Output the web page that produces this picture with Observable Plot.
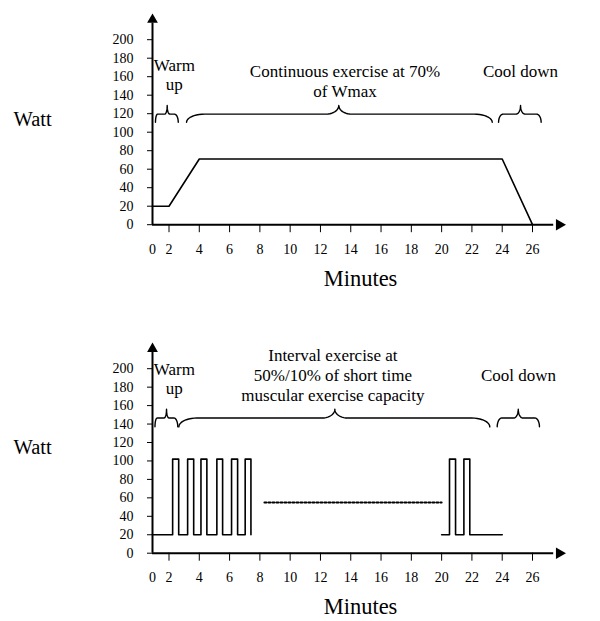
<!DOCTYPE html>
<html><head><meta charset="utf-8">
<script src="https://cdn.jsdelivr.net/npm/d3@7"></script>
<script src="https://cdn.jsdelivr.net/npm/@observablehq/plot@0.6"></script>
<style>
body{margin:0;background:#fff;}
#chart svg{display:block;}
</style></head><body><div id="chart"></div>
<script>
// ---- tick labels ----
const xTicks = [0, 2, 4, 6, 8, 10, 12, 14, 16, 18, 20, 22, 24, 26];
const yTicks = [0, 20, 40, 60, 80, 100, 120, 140, 160, 180, 200];

// ---- top panel: continuous exercise ----
const contMinutes = [0, 2, 4, 24, 26];
const contWatts   = [20, 20, 71, 71, 0];

// ---- bottom panel: interval exercise (step series) ----
const intMinutesA = [0, 2.24, 2.64, 3.23, 3.63, 4.11, 4.50, 5.16, 5.54, 6.13, 6.53, 7.03, 7.41];
const intWattsA   = [20, 102, 20, 102, 20, 102, 20, 102, 20, 102, 20, 102, 20];
const intMinutesB = [20, 20.52, 20.92, 21.47, 21.86, 24];
const intWattsB   = [20, 102, 20, 102, 20, 20];
const dottedMinutes = [8.3, 20.0];
const dottedWatts   = [55, 55];

// ---- braces (start, tip, end in minutes) ----
const topBraceStart = [0.36, 3.16, 23.76];
const topBraceTip   = [1.78, 13.21, 25.21];
const topBraceEnd   = [2.61, 23.34, 26.57];
const topBraceLevels = [110.8, 119.5, 128.9]; // ends, bar, tip (watts)
const botBraceStart = [0.30, 2.65, 23.67];
const botBraceTip   = [1.70, 12.95, 25.06];
const botBraceEnd   = [2.58, 23.18, 26.46];
const botBraceLevels = [137, 146.5, 156];
const braceEndCurl = [0.25, 1.2, 0.3];
const braceTipCurl = [0.3, 0.85, 0.3];

// ---- annotation labels ----
const topLabelTexts = ["Warm\nup", "Continuous exercise at 70%\nof Wmax", "Cool down"];
const topLabelMinutes = [2.35, 13.62, 25.21];
const topLabelWatts = [145.1, 137.8, 159.5];
const botLabelTexts = ["Warm\nup", "Interval exercise at\n50%/10% of short time\nmuscular exercise capacity", "Cool down"];
const botLabelMinutes = [2.35, 12.82, 25.08];
const botLabelWatts = [172.6, 164.6, 187];
const labelLineHeights = [1.12, 1.18, 1.18];

const X_AXIS_END = 27.4, X_ARROW = 27.77;
const Y_AXIS_END = 218, Y_ARROW = 221.6;

const serif = "'Liberation Serif', 'Times New Roman', Times, serif";

function bracePoints(x0, xt, x1, levels, e, c, id) {
  const [yEnd, yH, yTip] = levels;
  const pts = [];
  const N = 10;
  for (let i = 0; i <= N; i++) { const t = i / N * Math.PI / 2;
    pts.push({x: x0 + e * (1 - Math.cos(t)), y: yEnd + (yH - yEnd) * Math.sin(t), id}); }
  for (let i = 0; i <= N; i++) { const t = i / N * Math.PI / 2;
    pts.push({x: xt - c + c * Math.sin(t), y: yTip - (yTip - yH) * Math.cos(t), id}); }
  for (let i = N; i >= 0; i--) { const t = i / N * Math.PI / 2;
    pts.push({x: xt + c - c * Math.sin(t), y: yTip - (yTip - yH) * Math.cos(t), id}); }
  for (let i = N; i >= 0; i--) { const t = i / N * Math.PI / 2;
    pts.push({x: x1 - e * (1 - Math.cos(t)), y: yEnd + (yH - yEnd) * Math.sin(t), id}); }
  return pts;
}

function panel({height, marginBottom, dataMarks, starts, tips, ends, levels, texts, mins, watts}) {
  const braces = starts.flatMap((s, i) => bracePoints(s, tips[i], ends[i], levels, braceEndCurl[i], braceTipCurl[i], i));
  const labels = texts.map((t, i) => ({text: t, x: mins[i], y: watts[i], lh: labelLineHeights[i]}));
  return Plot.plot({
    width: 600, height,
    marginTop: 39.2, marginBottom, marginLeft: 152, marginRight: 68,
    style: {fontFamily: serif, fontSize: "14px", color: "black", background: "white", overflow: "visible"},
    x: {type: "linear", domain: [0, 2, 26], range: [152, 168.5, 532], ticks: xTicks.filter(d => d > 0),
        tickSize: 8, tickPadding: 11, tickFormat: d => String(d), label: null},
    y: {domain: [0, 200], ticks: yTicks, tickSize: 5, tickPadding: 14, tickFormat: d => String(d), label: null},
    marks: [
      Plot.ruleY([0], {x1: 0, x2: X_AXIS_END, strokeWidth: 2}),
      Plot.ruleX([0], {y1: 0, y2: Y_AXIS_END, strokeWidth: 2}),
      Plot.dot([0], {x: () => 0, y: () => Y_ARROW, symbol: "triangle", r: 4, fill: "black", stroke: null}),
      Plot.dot([0], {x: () => X_ARROW, y: () => 0, symbol: "triangle", r: 4.3, rotate: 90, fill: "black", stroke: null}),
      Plot.text(["0"], {x: () => 0, frameAnchor: "bottom", lineAnchor: "top", dy: 19, fontSize: 14}),
      ...dataMarks,
      Plot.line(braces, {x: "x", y: "y", z: "id", stroke: "black", strokeWidth: 1.4}),
      ...labels.map(l => Plot.text([l], {x: "x", y: "y", text: "text", lineAnchor: "bottom", lineHeight: l.lh, fontSize: 17})),
      Plot.text(["Watt"], {frameAnchor: "left", textAnchor: "start", dx: -139, dy: -6.7, lineAnchor: "bottom", fontSize: 20.5}),
      Plot.text(["Minutes"], {frameAnchor: "bottom", dx: 18, dy: 60.8, lineAnchor: "bottom", fontSize: 22.5})
    ]
  });
}

const topData = contMinutes.map((m, i) => ({m, w: contWatts[i]}));
const intData = [
  ...intMinutesA.map((m, i) => ({m, w: intWattsA[i], s: "a"})),
  ...intMinutesB.map((m, i) => ({m, w: intWattsB[i], s: "b"}))
];
const dotData = dottedMinutes.map((m, i) => ({m, w: dottedWatts[i]}));

const topPanel = panel({
  height: 329, marginBottom: 104.8,
  dataMarks: [Plot.line(topData, {x: "m", y: "w", stroke: "black", strokeWidth: 1.6})],
  starts: topBraceStart, tips: topBraceTip, ends: topBraceEnd, levels: topBraceLevels,
  texts: topLabelTexts, mins: topLabelMinutes, watts: topLabelWatts
});
const bottomPanel = panel({
  height: 292, marginBottom: 68.3,
  dataMarks: [
    Plot.line(intData, {x: "m", y: "w", z: "s", curve: "step-after", stroke: "black", strokeWidth: 1.6}),
    Plot.line(dotData, {x: "m", y: "w", stroke: "black", strokeWidth: 2, strokeDasharray: "2,2"})
  ],
  starts: botBraceStart, tips: botBraceTip, ends: botBraceEnd, levels: botBraceLevels,
  texts: botLabelTexts, mins: botLabelMinutes, watts: botLabelWatts
});
document.getElementById("chart").append(topPanel, bottomPanel);
</script></body></html>
